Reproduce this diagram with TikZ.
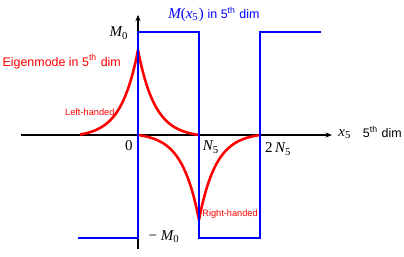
\documentclass[tikz,border=0pt]{standalone}
\usepackage{fontspec}
\setmainfont{Liberation Sans}
\newfontfamily\tms{Liberation Serif}
\usetikzlibrary{arrows.meta}

% profile of the zero modes
\newcommand{\modeamp}{1.39}
\newcommand{\modedec}{0.28}
\newcommand{\modeoff}{0.0281}
\newcommand{\sbs}[1]{\textsubscript{\upshape #1}}

\tikzset{
  txt/.style={font=\fontsize{5.8}{7}\selectfont, inner sep=0pt},
  handlbl/.style={font=\fontsize{4.3}{5}\selectfont, inner sep=0pt, red},
  mth/.style={font=\fontsize{7}{8}\selectfont\tms, inner sep=0pt},
  axis/.style={line width=0.5pt, -{Stealth[length=3pt,width=2.4pt]}},
  mass/.style={blue, line width=1pt},
  mode/.style={red, line width=1.2pt},
}

\begin{document}
\begin{tikzpicture}[line join=miter]

\useasboundingbox (-2.262,-1.984) rectangle (4.361,2.213);

% ═══════════════════════════════════════════════════════
% EJES
% ═══════════════════════════════════════════════════════

\coordinate (xstart) at (-1.92,0);
\coordinate (xend)   at (3.18,0);
\coordinate (ystart) at (0,-1.87);
\coordinate (yend)   at (0,1.97);

\draw[axis] (xstart) -- (xend);
\draw[axis] (ystart) -- (yend);

% ═══════════════════════════════════════════════════════
% MODOS (rojo)
% ═══════════════════════════════════════════════════════

% left-handed, pico en 0
\draw[mode]
    plot[domain=-0.95:0, samples=50]
      (\x, {\modeamp*(exp(\x/\modedec)-\modeoff)/(1-\modeoff)})
    -- plot[domain=0:1, samples=50]
      (\x, {\modeamp*(exp(-\x/\modedec)-\modeoff)/(1-\modeoff)});

% right-handed, pico en N5
\draw[mode]
    plot[domain=0:1, samples=50]
      (\x, {-\modeamp*(exp((\x-1)/\modedec)-\modeoff)/(1-\modeoff)})
    -- plot[domain=1:2, samples=50]
      (\x, {-\modeamp*(exp((1-\x)/\modedec)-\modeoff)/(1-\modeoff)});

% ═══════════════════════════════════════════════════════
% MASA M(x5) (azul)
% ═══════════════════════════════════════════════════════

\draw[mass] (-0.98,-1.69) -- (0,-1.69) -- (0,1.69) -- (1,1.69)
    -- (1,-1.69) -- (2,-1.69) -- (2,1.69) -- (3,1.69);

% ═══════════════════════════════════════════════════════
% ETIQUETAS
% ═══════════════════════════════════════════════════════

\node[mth, blue, anchor=west] (masslbl) at (0.49,1.98)
    {\itshape M\upshape(\itshape x\sbs{5}\upshape)
     \normalfont\fontsize{5.8}{7}\selectfont in 5\textsuperscript{th} dim};

\node[mth] (mzero) at (-0.31,1.67) {\itshape M\sbs{0}};
\node[mth] (mminus) at (0.43,-1.66) {− \itshape M\sbs{0}};

\node[txt, red] (modelbl) at (-1.25,1.20) {Eigenmode in 5\textsuperscript{th} dim};
\node[handlbl] (lefthand) at (-0.79,0.38) {Left-handed};
\node[handlbl] (righthand) at (1.51,-1.30) {Right-handed};

\node[mth] (zero) at (-0.15,-0.18) {0};
\node[mth] (nfive) at (1.20,-0.20) {\itshape N\sbs{5}};
\node[mth] (twonfive) at (2.30,-0.23) {2\,\itshape N\sbs{5}};

\node[mth, anchor=west] (xfive) at (3.28,0.02) {\itshape x\sbs{5}};
\node[txt, anchor=east] (fifthdim) at (4.33,0.05) {5\textsuperscript{th} dim};

\end{tikzpicture}
\end{document}
